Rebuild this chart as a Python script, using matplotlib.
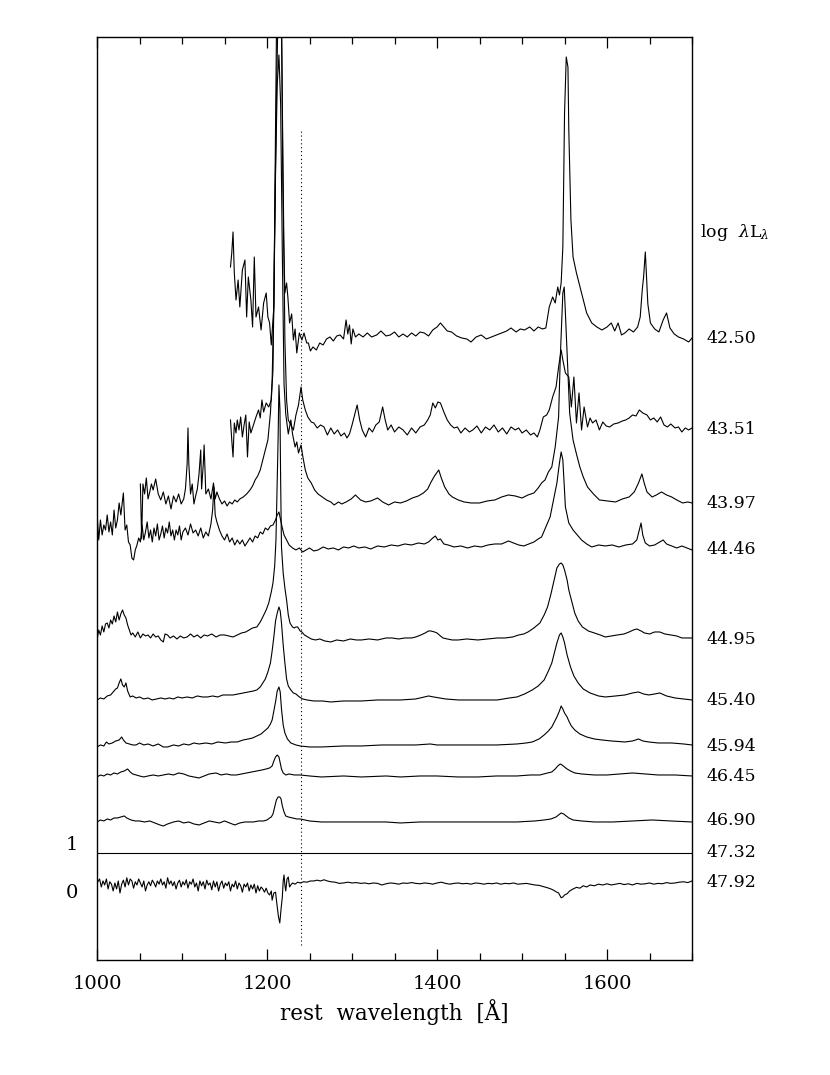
import numpy as np
import matplotlib
matplotlib.use("Agg")
import matplotlib.pyplot as plt
from matplotlib.ticker import MultipleLocator

plt.rcParams["font.family"] = "DejaVu Serif"
plt.rcParams["mathtext.fontset"] = "dejavuserif"

# composite spectra: (rest wavelength, flux above continuum) in arbitrary units
spec_4250 = [
    (1157, 72), (1158.5, 86), (1160, 107), (1161.5, 66), (1163.5, 39), (1166, 59), (1168, 32),
    (1171, 69), (1174, 79), (1176, 22), (1178, 62), (1181, 39), (1183, 12), (1185, 82), (1187, 22),
    (1190, 32), (1193, 9), (1196, 36), (1199, 46), (1201, 22), (1203, 16), (1205, -6), (1208, 32),
    (1209.5, 166), (1211, 300), (1212.5, 350), (1214.5, 360), (1217, 340), (1218.5, 160),
    (1219.5, 100), (1221, 46), (1223, 56), (1224.5, 42), (1226.5, 16), (1229, 25), (1231, -1),
    (1233, 10), (1235, -14), (1238, 6), (1241, -1), (1243.5, 6), (1246.7, -4), (1248.6, -4),
    (1251, -12), (1254, -8), (1258, -11), (1262, -4), (1266, -6), (1270, 0), (1274, 2), (1278, -2),
    (1282, 3), (1286, 4), (1290, 0), (1293, 19), (1295, 5), (1297, 14), (1299, -5), (1301, 10),
    (1304, 2), (1308, 5), (1313, 2), (1318, 6), (1323, 2), (1329, 4), (1334, 8), (1340, 3),
    (1345, 4), (1350, 7), (1355, 2), (1360, 5), (1365, 2), (1370, 6), (1375, 3), (1380, 7),
    (1385, 6), (1390, 3), (1395, 9), (1400, 12), (1404, 16), (1408, 12), (1412, 8), (1417, 7),
    (1423, 3), (1429, 1), (1435, 0), (1440, -3), (1446, 2), (1452, 4), (1458, 0), (1464, 2),
    (1470, 4), (1476, 6), (1482, 8), (1487, 11), (1493, 7), (1498, 10), (1503, 9), (1509, 12),
    (1514, 8), (1519, 12), (1524, 10), (1528, 11), (1532, 32), (1536, 42), (1539, 36), (1542, 52),
    (1544, 44), (1546, 56), (1548, 92), (1550, 226), (1552, 282), (1554, 272), (1555, 209),
    (1557.5, 119), (1560, 82), (1564, 66), (1570, 46), (1576, 26), (1582, 16), (1588, 12),
    (1594, 9), (1600, 12), (1605, 16), (1609, 8), (1613, 16), (1617, 4), (1621, 6), (1626, 10),
    (1631, 7), (1636, 12), (1639, 22), (1641.5, 50), (1643, 62), (1645, 87), (1646.5, 60),
    (1648, 35), (1651, 16), (1656, 10), (1661, 7), (1666, 19), (1670, 26), (1674, 11), (1679, 5),
    (1684, 2), (1690, 0), (1696, -3), (1700, 1),
]

spec_4351 = [
    (1157, 10), (1158.5, -10), (1160, -27), (1161.5, 7), (1163.5, -3), (1165, 10), (1167, 0),
    (1169, 13), (1171, -7), (1173, 5), (1175, 15), (1177, -27), (1179, 8), (1181, -3), (1184, 5),
    (1187, 13), (1190, 20), (1192, 12), (1194, 30), (1196, 18), (1199, 27), (1202, 23), (1205, 30),
    (1207, 60), (1209, 200), (1211, 330), (1213, 420), (1215, 430), (1217, 400), (1219, 250),
    (1221, 90), (1223, 30), (1225, 10), (1228, 5), (1231, 0), (1234, 15), (1237, 25), (1240, 43),
    (1242, 30), (1245, 20), (1248, 13), (1252, 8), (1255, 7), (1259, 2), (1263, 5), (1267, 3),
    (1271, -5), (1275, 2), (1279, -4), (1283, 0), (1287, -6), (1291, -3), (1294, -8), (1297, -4),
    (1300, 5), (1303, 15), (1306, 25), (1309, 10), (1312, 0), (1316, -7), (1320, 2), (1324, -2),
    (1328, 5), (1332, 8), (1336, 23), (1339, 10), (1342, 0), (1346, 5), (1350, -2), (1355, 3),
    (1360, 0), (1365, -5), (1370, 2), (1375, -3), (1380, 3), (1385, 5), (1389, 10), (1392, 15),
    (1395, 27), (1398, 22), (1401, 28), (1404, 27), (1408, 18), (1412, 10), (1416, 5), (1420, 2),
    (1424, 3), (1428, -3), (1433, 2), (1438, -2), (1442, 0), (1447, 4), (1452, -3), (1457, 3),
    (1462, 0), (1467, 5), (1472, -2), (1477, 2), (1482, -4), (1487, 3), (1492, 0), (1496, 2),
    (1500, -3), (1505, 0), (1510, -5), (1514, -3), (1518, -7), (1521, 0), (1525, 13), (1529, 15),
    (1532, 20), (1536, 33), (1540, 43), (1543, 63), (1546, 80), (1548, 70), (1551, 57), (1553, 55),
    (1555, 53), (1558, 23), (1561, 53), (1564, 7), (1567, 37), (1570, 0), (1573, 23), (1577, 3),
    (1580, 12), (1583, 7), (1587, 10), (1591, 0), (1595, 8), (1599, 4), (1603, 3), (1608, 6),
    (1613, 7), (1618, 9), (1622, 10), (1626, 12), (1630, 15), (1634, 14), (1638, 20), (1642, 17),
    (1647, 15), (1651, 10), (1655, 12), (1659, 8), (1663, 13), (1667, 5), (1671, 3), (1675, 6),
    (1680, 2), (1684, 3), (1688, -2), (1692, 2), (1696, 0), (1700, 2),
]

spec_4397 = [
    (1051, 20), (1052.5, -35), (1054, 20), (1056, 10), (1058, 26), (1060, 5), (1062, 12), (1064, 20),
    (1066, 14), (1069, 25), (1072, 10), (1075, 4), (1078, 12), (1081, 0), (1084, 8), (1087, -5),
    (1090, 8), (1093, 2), (1096, 10), (1099, 0), (1102, 5), (1104, 15), (1106, 40), (1107, 76),
    (1108, 40), (1110, 10), (1112, 20), (1114, 0), (1116, 8), (1118, 15), (1120, 30), (1122, 54),
    (1123, 15), (1125, 40), (1126, 59), (1128, 10), (1131, 15), (1134, 5), (1137, 21), (1139, 5),
    (1141, 12), (1144, 5), (1147, 0), (1150, 3), (1153, -2), (1156, 2), (1159, 0), (1162, 4),
    (1165, 2), (1168, 5), (1172, 7), (1176, 10), (1180, 14), (1183, 18), (1186, 24), (1189, 28),
    (1192, 34), (1195, 44), (1198, 54), (1201, 64), (1204, 91), (1206, 124), (1208, 200),
    (1210, 330), (1212, 420), (1214, 449), (1216, 400), (1218, 250), (1220, 120), (1222, 90),
    (1225, 70), (1228, 84), (1230, 70), (1233, 57), (1235, 62), (1237, 51), (1240, 59), (1242, 48),
    (1245, 34), (1248, 26), (1252, 21), (1256, 14), (1260, 10), (1265, 7), (1270, 4), (1275, 2),
    (1279, -1), (1284, 2), (1288, 0), (1293, 2), (1299, 5), (1304, 9), (1310, 4), (1316, 2),
    (1322, 3), (1330, 6), (1336, 2), (1343, -1), (1350, 2), (1357, 1), (1364, 3), (1371, 6),
    (1378, 8), (1384, 11), (1389, 15), (1393, 22), (1397, 28), (1402, 34), (1405, 26), (1409, 17),
    (1414, 10), (1418, 7), (1425, 4), (1432, 2), (1440, 1), (1450, 1), (1459, 3), (1468, 4),
    (1476, 7), (1484, 9), (1492, 8), (1500, 6), (1507, 9), (1514, 11), (1519, 16), (1523, 21),
    (1527, 24), (1531, 32), (1535, 37), (1539, 57), (1543, 87), (1545, 147), (1548, 211),
    (1549.6, 217), (1551, 191), (1554, 131), (1556, 91), (1560, 64), (1564, 50), (1568, 37),
    (1572, 27), (1577, 17), (1584, 10), (1591, 4), (1600, 3), (1610, 2), (1618, 5), (1626, 7),
    (1632, 12), (1637, 21), (1641, 30), (1644, 20), (1647, 12), (1653, 7), (1658, 9), (1664, 12),
    (1670, 9), (1676, 7), (1682, 4), (1689, 1), (1695, 2), (1700, 1),
]

spec_4446 = [
    (1000, 37), (1002, 10), (1004, 30), (1006, 15), (1008, 25), (1010, 20), (1012, 35), (1014, 18),
    (1016, 28), (1018, 15), (1020, 40), (1022, 22), (1024, 30), (1026, 47), (1028, 35), (1030, 50),
    (1031, 57), (1033, 20), (1035, 25), (1037, 8), (1039, 5), (1041, -8), (1043, -10), (1045, 0),
    (1047, 5), (1049, 12), (1051, 8), (1053, 25), (1055, 10), (1057, 18), (1059, 28), (1061, 12),
    (1063, 20), (1065, 8), (1067, 22), (1069, 14), (1071, 26), (1073, 10), (1075, 16), (1077, 24),
    (1079, 12), (1081, 22), (1083, 17), (1085, 28), (1087, 14), (1089, 20), (1091, 10), (1093, 20),
    (1095, 15), (1097, 24), (1099, 10), (1101, 18), (1104, 22), (1107, 15), (1110, 26), (1113, 17),
    (1116, 20), (1119, 14), (1122, 22), (1125, 12), (1128, 18), (1131, 14), (1134, 26), (1136, 40),
    (1137.5, 63), (1139, 35), (1141, 28), (1144, 20), (1147, 14), (1150, 10), (1153, 16), (1156, 8),
    (1159, 12), (1162, 5), (1165, 10), (1168, 6), (1171, 10), (1174, 4), (1177, 8), (1180, 12),
    (1183, 8), (1186, 14), (1189, 12), (1192, 18), (1195, 16), (1198, 22), (1201, 20), (1204, 24),
    (1207, 25), (1210, 30), (1212, 35), (1214, 38), (1216, 30), (1218, 22), (1220, 15), (1223, 10),
    (1226, 5), (1230, 2), (1234, 0), (1238, 2), (1242, -2), (1246, 0), (1250, 2), (1255, -1),
    (1260, 0), (1266, 3), (1272, 1), (1278, 2), (1284, 0), (1290, 3), (1296, 2), (1302, 4),
    (1308, 2), (1315, 3), (1322, 1), (1330, 4), (1338, 3), (1346, 5), (1354, 4), (1362, 6),
    (1370, 5), (1378, 7), (1385, 6), (1390, 8), (1395, 12), (1398, 14), (1401, 10), (1404, 11),
    (1408, 6), (1413, 5), (1420, 3), (1428, 4), (1436, 2), (1444, 4), (1452, 3), (1460, 5),
    (1468, 6), (1476, 6), (1484, 9), (1490, 7), (1496, 5), (1502, 4), (1508, 6), (1514, 8),
    (1519, 11), (1523, 13), (1528, 23), (1533, 33), (1537, 50), (1541, 67), (1544, 87), (1546, 98),
    (1548, 90), (1551, 43), (1555, 27), (1560, 20), (1565, 15), (1570, 10), (1576, 6), (1582, 3),
    (1590, 5), (1598, 4), (1606, 5), (1614, 3), (1622, 5), (1630, 6), (1635, 10), (1638, 20),
    (1640, 27), (1642, 15), (1645, 7), (1650, 4), (1656, 5), (1662, 8), (1666, 10), (1670, 6),
    (1676, 4), (1682, 2), (1688, 4), (1694, 2), (1700, 0),
]

spec_4495 = [
    (1000, 0), (1002, 10), (1004, 5), (1006, 14), (1008, 8), (1010, 16), (1012, 17), (1014, 12),
    (1016, 20), (1018, 16), (1020, 24), (1022, 18), (1024, 28), (1026, 20), (1028, 26), (1030, 30),
    (1032, 25), (1034, 22), (1036, 15), (1038, 10), (1040, 5), (1042, 7), (1045, 3), (1048, 8),
    (1051, 2), (1054, 6), (1057, 4), (1060, 5), (1063, 2), (1066, 6), (1069, 3), (1072, 4),
    (1075, 0), (1078, -2), (1080, 6), (1083, 5), (1086, 2), (1090, 4), (1094, 1), (1098, 4),
    (1102, 2), (1106, 3), (1110, 6), (1114, 3), (1118, 5), (1122, 2), (1126, 5), (1130, 4),
    (1135, 6), (1140, 3), (1145, 5), (1150, 5), (1155, 4), (1160, 3), (1165, 5), (1170, 7),
    (1175, 8), (1179, 10), (1183, 12), (1188, 13), (1192, 18), (1195, 23), (1199, 30), (1202, 37),
    (1205, 48), (1207, 57), (1209, 74), (1210.5, 100), (1212, 160), (1213, 200), (1214, 255),
    (1215.2, 230), (1216, 160), (1217, 93), (1219, 67), (1221, 52), (1223, 40), (1225, 25),
    (1227, 17), (1230, 13), (1232, 12), (1234, 13), (1236, 13), (1239, 9), (1241, 8), (1244, 5),
    (1248, 3), (1252, 1), (1257, 0), (1262, 1), (1268, -1), (1275, -2), (1282, 0), (1290, -1),
    (1298, 1), (1305, 0), (1311, 0), (1320, 1), (1330, 0), (1340, 2), (1347, 2), (1355, 1),
    (1362, 2), (1370, 2), (1375, 3), (1381, 5), (1386, 7), (1390, 9), (1393, 9), (1397, 8),
    (1400, 7), (1404, 4), (1407, 2), (1412, 1), (1418, 0), (1425, 0), (1435, 1), (1448, 0),
    (1460, 1), (1471, 2), (1480, 2), (1489, 3), (1496, 5), (1502, 6), (1507, 8), (1514, 12),
    (1521, 17), (1526, 25), (1530, 33), (1534, 46), (1537, 57), (1541, 72), (1544, 76), (1546, 77),
    (1548, 75), (1550, 70), (1553, 60), (1555, 50), (1559, 37), (1562, 27), (1566, 19), (1571, 13),
    (1578, 9), (1585, 7), (1592, 5), (1598, 3), (1605, 4), (1612, 5), (1620, 6), (1626, 8),
    (1631, 10), (1635, 11), (1640, 9), (1644, 7), (1650, 6), (1656, 8), (1662, 8), (1668, 6),
    (1675, 5), (1682, 4), (1688, 2), (1694, 2), (1700, 2),
]

spec_4540 = [
    (1000, 1), (1004, 3), (1008, 2), (1012, 5), (1016, 6), (1019, 9), (1022, 12), (1024, 13),
    (1026, 18), (1028, 22), (1030, 16), (1032, 14), (1034, 18), (1036, 10), (1039, 4), (1042, 5),
    (1046, 3), (1050, 4), (1055, 2), (1060, 3), (1065, 1), (1070, 2), (1075, 3), (1080, 2),
    (1085, 3), (1090, 2), (1095, 4), (1100, 3), (1106, 4), (1112, 3), (1118, 5), (1124, 4),
    (1130, 4), (1136, 5), (1142, 4), (1148, 6), (1154, 6), (1160, 6), (1166, 7), (1172, 8),
    (1178, 9), (1184, 10), (1188, 11), (1192, 14), (1195, 18), (1198, 22), (1201, 29), (1204, 38),
    (1206, 50), (1208, 64), (1210, 80), (1212, 88), (1214, 94), (1215.5, 90), (1217, 78),
    (1219, 56), (1221, 38), (1223, 22), (1225, 15), (1228, 11), (1231, 8), (1234, 7), (1238, 4),
    (1242, 2), (1247, 1), (1255, 0), (1265, 0), (1275, -1), (1290, 0), (1311, 0), (1330, 1),
    (1357, 1), (1375, 2), (1385, 4), (1390, 5), (1396, 4), (1403, 3), (1410, 2), (1425, 1),
    (1450, 1), (1471, 1), (1485, 3), (1494, 4), (1503, 7), (1512, 11), (1519, 15), (1526, 21),
    (1531, 30), (1535, 38), (1538, 48), (1541, 58), (1544, 66), (1546, 68), (1548, 64), (1550, 58),
    (1553, 46), (1557, 34), (1561, 25), (1566, 18), (1572, 12), (1580, 8), (1590, 5), (1598, 4),
    (1610, 5), (1621, 6), (1630, 8), (1637, 9), (1643, 7), (1649, 6), (1656, 7), (1662, 8),
    (1670, 5), (1680, 3), (1690, 2), (1700, 1),
]

spec_4594 = [
    (1000, 0), (1004, 2), (1008, 1), (1011, 5), (1014, 3), (1018, 4), (1022, 6), (1026, 7),
    (1029, 10), (1031, 7), (1034, 4), (1038, 3), (1042, 2), (1046, 2), (1050, 4), (1055, 2),
    (1060, 3), (1066, 1), (1072, 3), (1078, 0), (1083, 0), (1090, 2), (1096, 1), (1102, 3),
    (1108, 2), (1114, 4), (1120, 3), (1128, 4), (1135, 3), (1142, 5), (1151, 4), (1158, 5),
    (1165, 5), (1172, 7), (1178, 8), (1183, 9), (1188, 11), (1193, 13), (1197, 16), (1201, 19),
    (1204, 23), (1206, 27), (1208, 36), (1210, 45), (1212, 56), (1214, 60), (1215.5, 55),
    (1217, 38), (1219, 22), (1221, 14), (1224, 8), (1228, 4), (1234, 2), (1239, 1), (1250, 0),
    (1264, 0), (1290, 1), (1311, 1), (1335, 2), (1357, 2), (1375, 2), (1392, 3), (1400, 2),
    (1420, 2), (1448, 2), (1470, 2), (1494, 3), (1505, 4), (1512, 5), (1520, 8), (1526, 12),
    (1531, 16), (1535, 20), (1538, 25), (1541, 30), (1544, 36), (1546, 41), (1548, 38), (1550, 34),
    (1553, 30), (1555, 26), (1558, 21), (1562, 17), (1568, 13), (1576, 10), (1585, 8), (1594, 7),
    (1605, 6), (1621, 5), (1630, 6), (1637, 8), (1642, 6), (1649, 5), (1660, 4), (1676, 4),
    (1690, 3), (1700, 2),
]

spec_4645 = [
    (1000, 0), (1004, 2), (1008, 1), (1012, 3), (1016, 2), (1020, 4), (1024, 3), (1028, 5),
    (1032, 6), (1036, 8), (1039, 5), (1042, 3), (1046, 2), (1050, 1), (1055, 0), (1060, 1),
    (1066, 2), (1072, 1), (1078, 2), (1084, 3), (1090, 2), (1096, 4), (1102, 3), (1108, 1),
    (1114, 0), (1120, -1), (1126, 1), (1132, 3), (1140, 4), (1146, 2), (1152, 3), (1158, 2),
    (1164, 2), (1170, 3), (1176, 4), (1182, 5), (1188, 6), (1194, 7), (1199, 8), (1203, 9),
    (1206, 11), (1208, 16), (1210, 20), (1212, 22), (1214, 20), (1215.5, 14), (1217, 8),
    (1219, 4), (1222, 2), (1226, 3), (1232, 2), (1239, 2), (1250, 1), (1264, 0), (1290, 1),
    (1311, 0), (1340, 1), (1357, 0), (1380, 1), (1400, 1), (1425, 0), (1448, 0), (1470, 1),
    (1494, 1), (1510, 2), (1521, 2), (1530, 4), (1535, 5), (1539, 8), (1542, 11), (1545, 13),
    (1547, 12), (1550, 10), (1553, 8), (1557, 6), (1562, 4), (1570, 3), (1585, 2), (1600, 2),
    (1615, 3), (1630, 4), (1645, 3), (1660, 2), (1680, 2), (1700, 1),
]

spec_4690 = [
    (1000, -1), (1004, 1), (1008, 0), (1012, 2), (1016, 1), (1020, 3), (1024, 3), (1028, 4),
    (1032, 5), (1035, 3), (1040, 1), (1045, 0), (1050, 0), (1056, -1), (1062, 0), (1068, -2),
    (1074, -4), (1078, -5), (1083, -3), (1090, -1), (1096, 0), (1102, -2), (1108, -1), (1114, -3),
    (1120, -4), (1126, -2), (1132, 0), (1138, -1), (1144, -2), (1150, 0), (1156, -2), (1162, -4),
    (1168, -2), (1174, -1), (1180, -1), (1184, -1), (1190, 0), (1196, 0), (1200, 1), (1203, 3),
    (1205, 4), (1207, 7), (1209, 14), (1211, 21), (1213, 24), (1215, 24), (1216.5, 22), (1218, 15),
    (1220, 9), (1222, 5), (1225, 4), (1230, 3), (1235, 2), (1239, 2), (1250, 0), (1264, -1),
    (1290, -1), (1311, -1), (1340, -1), (1357, -2), (1380, -1), (1403, -1), (1430, -1),
    (1448, -1), (1470, -1), (1494, -1), (1515, 0), (1526, 1), (1534, 2), (1540, 4), (1543, 6),
    (1546, 8), (1549, 7), (1552, 5), (1555, 3), (1560, 1), (1570, 0), (1585, -1), (1607, -1),
    (1630, 0), (1653, 1), (1675, 0), (1700, -1),
]

# ratio spectrum of the most luminous bin (reference levels 0 and 1)
ratio_4792 = [
    (1000, 0.25), (1003, 0.35), (1005, 0.15), (1007, 0.30), (1009, 0.20), (1011, 0.35),
    (1013, 0.10), (1015, 0.28), (1017, 0.22), (1019, 0.05), (1021, 0.25), (1023, 0.10),
    (1025, 0.30), (1027, 0.00), (1029, 0.22), (1031, 0.32), (1033, 0.15), (1035, 0.38),
    (1037, 0.20), (1039, 0.35), (1041, 0.30), (1043, 0.12), (1045, 0.28), (1047, 0.20),
    (1049, 0.35), (1051, 0.25), (1053, 0.15), (1055, 0.30), (1057, 0.05), (1059, 0.20),
    (1061, 0.28), (1063, 0.18), (1065, 0.32), (1067, 0.25), (1069, 0.15), (1071, 0.30),
    (1073, 0.22), (1075, 0.35), (1077, 0.20), (1079, 0.28), (1081, 0.12), (1083, 0.38),
    (1085, 0.22), (1087, 0.30), (1089, 0.18), (1091, 0.28), (1093, 0.10), (1095, 0.25),
    (1097, 0.32), (1099, 0.15), (1101, 0.28), (1103, 0.20), (1105, 0.33), (1107, 0.12),
    (1109, 0.28), (1111, 0.22), (1113, 0.35), (1115, 0.15), (1117, 0.25), (1119, 0.05),
    (1121, 0.30), (1123, 0.18), (1125, 0.28), (1127, 0.10), (1129, 0.32), (1131, 0.20),
    (1133, 0.25), (1135, 0.08), (1137, 0.30), (1139, 0.15), (1141, 0.28), (1143, 0.05),
    (1145, 0.22), (1147, 0.30), (1149, 0.12), (1151, 0.25), (1153, 0.18), (1155, 0.28),
    (1157, 0.05), (1159, 0.22), (1161, 0.15), (1163, 0.30), (1165, 0.10), (1167, 0.25),
    (1169, 0.18), (1171, 0.02), (1173, 0.22), (1175, 0.15), (1177, 0.25), (1179, 0.05),
    (1181, 0.20), (1183, 0.10), (1185, 0.22), (1187, 0.00), (1189, 0.18), (1191, 0.05),
    (1193, 0.15), (1195, 0.10), (1197, 0.02), (1199, 0.12), (1201, 0.00), (1203, -0.05),
    (1205, 0.05), (1206, -0.18), (1208, 0.00), (1210, 0.02), (1212, -0.35), (1213.5, -0.60),
    (1215, -0.75), (1216.5, -0.40), (1218, -0.10), (1219, 0.30), (1220, 0.45), (1221, 0.20),
    (1222, 0.05), (1223.5, 0.35), (1225, 0.40), (1226.5, 0.15), (1228, 0.20), (1230, 0.25),
    (1233, 0.22), (1236, 0.27), (1239, 0.25), (1243, 0.28), (1247, 0.27), (1251, 0.30),
    (1255, 0.30), (1259, 0.32), (1263, 0.30), (1267, 0.33), (1271, 0.30), (1275, 0.28),
    (1280, 0.27), (1285, 0.24), (1290, 0.25), (1295, 0.27), (1300, 0.25), (1305, 0.26),
    (1310, 0.24), (1315, 0.25), (1320, 0.23), (1325, 0.25), (1330, 0.24), (1335, 0.20),
    (1340, 0.23), (1345, 0.25), (1350, 0.24), (1355, 0.22), (1360, 0.25), (1365, 0.24),
    (1370, 0.26), (1375, 0.24), (1380, 0.23), (1385, 0.25), (1390, 0.24), (1395, 0.22),
    (1400, 0.25), (1405, 0.27), (1410, 0.24), (1415, 0.22), (1420, 0.24), (1425, 0.25),
    (1430, 0.23), (1435, 0.24), (1440, 0.22), (1445, 0.25), (1450, 0.24), (1455, 0.22),
    (1460, 0.24), (1465, 0.23), (1470, 0.25), (1475, 0.22), (1480, 0.24), (1485, 0.23),
    (1490, 0.25), (1495, 0.22), (1500, 0.23), (1505, 0.24), (1510, 0.22), (1515, 0.20),
    (1520, 0.19), (1525, 0.16), (1530, 0.13), (1534, 0.10), (1537, 0.07), (1540, 0.03),
    (1543, 0.00), (1546, -0.12), (1548, -0.10), (1550, -0.05), (1553, -0.02), (1556, 0.05),
    (1560, 0.10), (1564, 0.14), (1568, 0.12), (1572, 0.18), (1576, 0.15), (1580, 0.20),
    (1585, 0.18), (1590, 0.22), (1595, 0.20), (1600, 0.23), (1605, 0.20), (1610, 0.22),
    (1615, 0.24), (1620, 0.21), (1625, 0.23), (1630, 0.20), (1635, 0.24), (1640, 0.22),
    (1645, 0.23), (1650, 0.25), (1655, 0.22), (1660, 0.24), (1665, 0.23), (1670, 0.26),
    (1675, 0.24), (1680, 0.25), (1685, 0.27), (1690, 0.28), (1695, 0.26), (1700, 0.30),
]

spectra = [spec_4250, spec_4351, spec_4397, spec_4446, spec_4495,
           spec_4540, spec_4594, spec_4645, spec_4690]
lum_labels = ["42.50", "43.51", "43.97", "44.46", "44.95", "45.40", "45.94", "46.45", "46.90"]
ratio_labels = ["47.32", "47.92"]

# layout: vertical offset of each spectrum and of the ratio panel
offsets = [621, 530, 456, 410, 320, 259, 213, 183, 139]
ratio_zero, ratio_unit = 67, 40
nv_line = 1240

fig = plt.figure(figsize=(8.3, 10.75), dpi=100)
ax = fig.add_axes([0.1169, 0.1070, 0.7169, 0.8586])

for spec, off in zip(spectra, offsets):
    w, f = np.array(spec).T
    ax.plot(w, off + f, color="black", lw=0.8)

w, r = np.array(ratio_4792).T
ax.plot(w, ratio_zero + ratio_unit * r, color="black", lw=0.8)
ax.axhline(ratio_zero + ratio_unit, color="black", lw=0.8)
ax.plot([nv_line, nv_line], [15, 830], color="black", lw=0.8, ls=(0, (1, 2.5)))

ax.set_xlim(1000, 1700)
ax.set_ylim(0, 923)
ax.set_yticks([])
ax.xaxis.set_major_locator(MultipleLocator(200))
ax.xaxis.set_minor_locator(MultipleLocator(50))
ax.tick_params(axis="x", which="both", direction="in", top=True, labelsize=14, pad=11, width=0.9)
ax.tick_params(axis="x", which="major", length=8)
ax.tick_params(axis="x", which="minor", length=5)
for sp in ax.spines.values():
    sp.set_linewidth(1.0)
ax.set_xlabel("rest  wavelength  [Å]", fontsize=15.5, labelpad=4)

# luminosity labels on the right, reference levels on the left
tr = ax.get_yaxis_transform()
for lab, off in zip(lum_labels, offsets):
    ax.text(1.0235, off, lab, transform=tr, fontsize=12.5, ha="left", va="center")
ax.text(1.0235, ratio_zero + ratio_unit, ratio_labels[0], transform=tr, fontsize=12.5,
        ha="left", va="center")
ax.text(1.0235, ratio_zero + ratio_unit * 0.25, ratio_labels[1], transform=tr, fontsize=12.5,
        ha="left", va="center")
ax.text(1.013, 727, r"log  $\lambda\mathrm{L}_\lambda$", transform=tr, fontsize=12.5,
        ha="left", va="center")
ax.text(-0.042, ratio_zero + ratio_unit * 1.2, "1", transform=tr, fontsize=14, ha="center", va="center")
ax.text(-0.042, ratio_zero, "0", transform=tr, fontsize=14, ha="center", va="center")

fig.savefig("out.png", dpi=100)
